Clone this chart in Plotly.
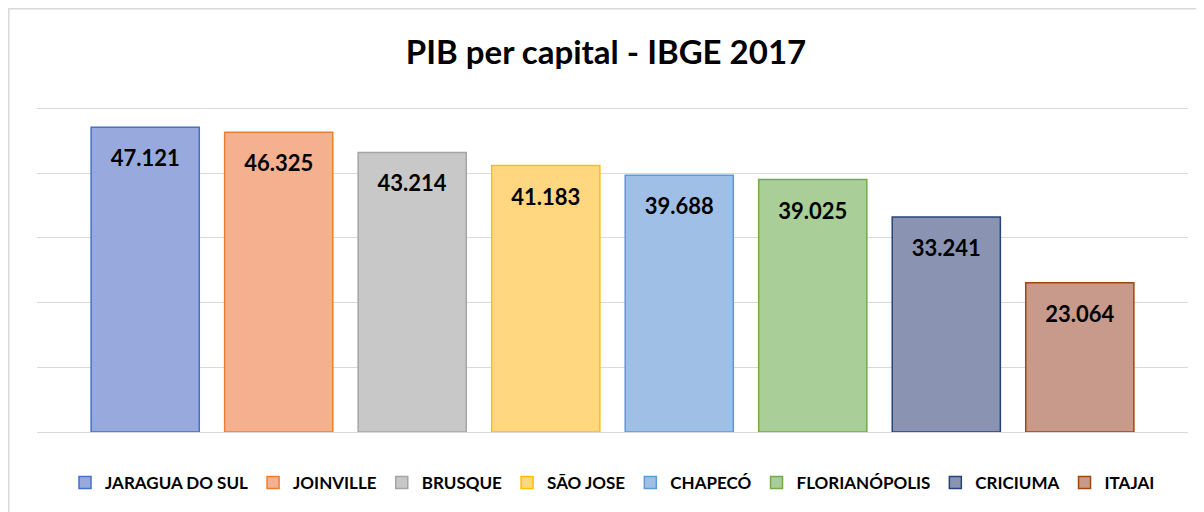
import plotly.graph_objects as go

cities = ["JARAGUA DO SUL", "JOINVILLE", "BRUSQUE", "SÃO JOSE", "CHAPECÓ",
          "FLORIANÓPOLIS", "CRICIUMA", "ITAJAI"]
values = [47121, 46325, 43214, 41183, 39688, 39025, 33241, 23064]
fill_colors = ["#98AADD", "#F5B090", "#C8C8C8", "#FFD780", "#A0BFE7",
               "#A9CE97", "#8A93B2", "#C79A8B"]
line_colors = ["#4472C4", "#ED7D31", "#A5A5A5", "#FFC000", "#5B9BD5",
               "#70AD47", "#264478", "#9E480E"]
category = ["PIB"]

fig = go.Figure()
for name, v, fc, lc in zip(cities, values, fill_colors, line_colors):
    fig.add_trace(go.Bar(
        x=category, y=[v], name=name,
        marker=dict(color=fc, line=dict(color=lc, width=1.5)),
        texttemplate="&nbsp;<br>&nbsp;<br><span style='font-size:22px'>%{y:,.0f}</span>",
        textposition="inside", insidetextanchor="end", textangle=0,
        textfont=dict(family="Lato", size=10, color="black", weight="bold"),
        hoverinfo="skip",
    ))

# page body has an 8px default margin; figure is sized/offset to compensate
fig.update_layout(
    width=1196, height=504,
    barmode="group", bargap=0.072, bargroupgap=0.19,
    separators=",.",
    paper_bgcolor="white", plot_bgcolor="white",
    margin=dict(l=29, r=16, t=98, b=79),
    title=dict(text="<b>PIB per capital - IBGE 2017</b>", x=0.5, xanchor="center",
               y=0.911, yanchor="middle",
               font=dict(family="Lato", size=33, color="black")),
    xaxis=dict(showticklabels=False, showgrid=False, zeroline=False, showline=False),
    yaxis=dict(range=[0, 50400], dtick=10000, showticklabels=False,
               gridcolor="#D9D9D9", gridwidth=1.3, zeroline=True,
               zerolinecolor="#D9D9D9", zerolinewidth=1.3, showline=False),
    legend=dict(orientation="h", x=0.5, xanchor="center", y=-0.153, yanchor="middle",
                font=dict(family="Lato", size=17, color="black", weight="bold"),
                traceorder="normal", itemclick=False),
    shapes=[dict(type="rect", xref="paper", yref="paper",
                 x0=-0.0245, x1=1.03, y0=-0.3, y1=1.2985,
                 line=dict(color="#D9D9D9", width=1.5), fillcolor="rgba(0,0,0,0)",
                 layer="below")],
)

fig.write_html("out.html")
